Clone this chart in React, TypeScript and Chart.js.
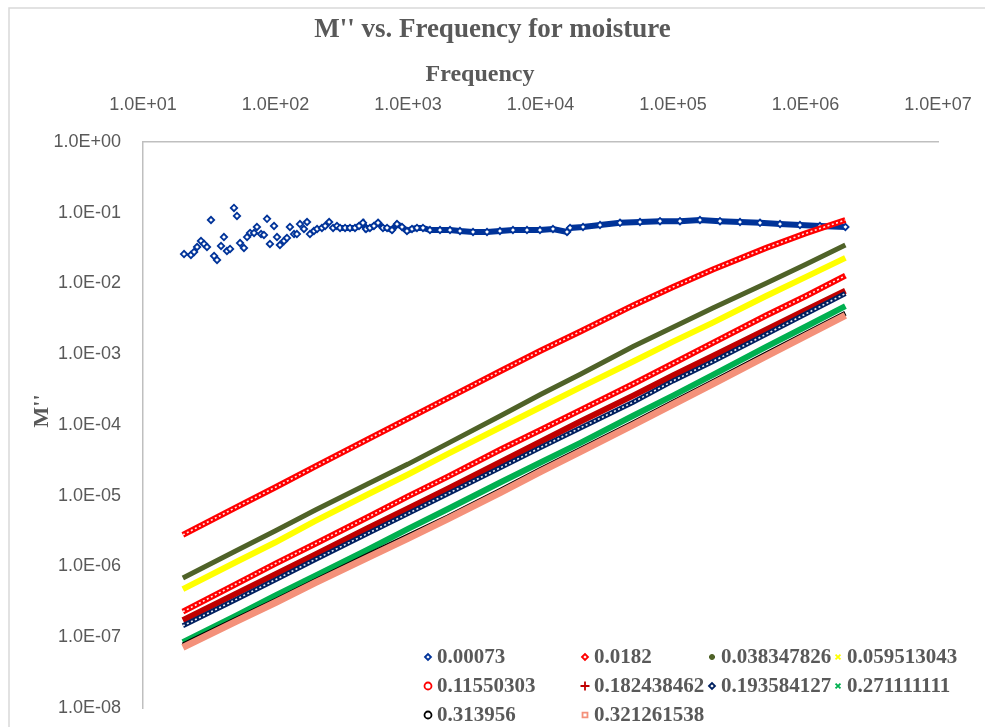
import React, { useEffect, useRef } from "react";
import { Chart, registerables, PointElement } from "chart.js";

Chart.register(...registerables);

const chartTitle = "M'' vs. Frequency for moisture";
const xTitle = "Frequency";
const yTitle = "M''";

const xTickValues = [1e1, 1e2, 1e3, 1e4, 1e5, 1e6, 1e7];
const xTickLabels = ["1.0E+01", "1.0E+02", "1.0E+03", "1.0E+04", "1.0E+05", "1.0E+06", "1.0E+07"];
const yTickValues = [1e0, 1e-1, 1e-2, 1e-3, 1e-4, 1e-5, 1e-6, 1e-7, 1e-8];
const yTickLabels = ["1.0E+00", "1.0E-01", "1.0E-02", "1.0E-03", "1.0E-04", "1.0E-05", "1.0E-06", "1.0E-07", "1.0E-08"];

const seriesLabels = [
  "0.00073", "0.0182", "0.038347826", "0.059513043",
  "0.11550303", "0.182438462", "0.193584127", "0.271111111",
  "0.313956", "0.321261538",
];

// series 0.00073 (noisy at low frequency)
const blueFreq = [
  20.4, 23.0, 24.3, 25.6, 27.4, 28.9, 30.4, 32.6, 34.4, 36.2,
  38.8, 40.8, 43.0, 45.4, 48.6, 51.2, 54.0, 57.8, 61.0, 64.3,
  68.9, 72.4, 77.8, 81.8, 86.3, 90.8, 97.5, 102.6, 108, 116,
  122, 128.5, 138, 145, 153, 164, 173, 182, 195,
  206, 224, 237, 254, 272, 291, 307, 335, 365, 398,
  427, 457, 482, 516, 553, 594, 647, 695, 757, 826,
  901, 982, 1072, 1169, 1297, 1465, 1744, 2075, 2468, 3096,
  3947, 4943, 6197, 7906, 9908, 12420, 15850, 16710, 20940, 28130,
  39810, 56360, 79800, 112900, 159800, 226300, 320400, 453600, 642300, 908000, 1285000, 2000000,
];
const blueM = [
  2.61e-2, 2.53e-2, 2.79e-2, 3.28e-2, 3.99e-2, 3.62e-2, 3.28e-2, 7.9e-2, 2.45e-2, 2.15e-2,
  3.39e-2, 4.54e-2, 2.88e-2, 3.08e-2, 1.17e-1, 9.0e-2, 3.73e-2, 3.18e-2, 4.54e-2, 5.18e-2,
  5.18e-2, 6.3e-2, 5.0e-2, 4.85e-2, 8.2e-2, 3.62e-2, 6.5e-2, 4.54e-2, 3.5e-2, 3.99e-2,
  4.4e-2, 6.3e-2, 5.0e-2, 5.0e-2, 6.93e-2, 5.9e-2, 7.4e-2, 5.0e-2, 5.52e-2,
  5.9e-2, 6.1e-2, 6.5e-2, 7.4e-2, 6.1e-2, 6.5e-2, 6.1e-2, 6.1e-2, 6.1e-2, 6.1e-2,
  6.5e-2, 7.2e-2, 5.9e-2, 6.1e-2, 6.5e-2, 7.2e-2, 6.1e-2, 6.1e-2, 5.7e-2, 6.93e-2,
  6.3e-2, 5.52e-2, 5.9e-2, 6.1e-2, 6.1e-2, 5.7e-2, 5.7e-2, 5.7e-2, 5.52e-2, 5.35e-2,
  5.35e-2, 5.52e-2, 5.7e-2, 5.7e-2, 5.7e-2, 5.9e-2, 5.35e-2, 6.1e-2, 6.3e-2, 6.7e-2,
  7.2e-2, 7.4e-2, 7.6e-2, 7.6e-2, 7.9e-2, 7.6e-2, 7.4e-2, 7.2e-2, 6.93e-2, 6.7e-2, 6.5e-2, 6.3e-2,
];

// shared frequencies for the other series
const freq = [20, 50, 100, 200, 500, 1000, 2000, 5000, 1e4, 2e4, 5e4, 1e5, 2e5, 5e5, 1e6, 2e6];
const m0182 = [2.8e-6, 6.8e-6, 1.32e-5, 2.6e-5, 6.3e-5, 1.23e-4, 2.4e-4, 5.8e-4, 1.12e-3, 2.1e-3, 4.9e-3, 8.9e-3, 1.58e-2, 3.16e-2, 5.1e-2, 7.9e-2];
const m0383 = [6.9e-7, 1.66e-6, 3.2e-6, 6.3e-6, 1.48e-5, 2.8e-5, 5.5e-5, 1.35e-4, 2.7e-4, 5.2e-4, 1.29e-3, 2.4e-3, 4.5e-3, 1.0e-2, 1.86e-2, 3.5e-2];
const m0595 = [4.8e-7, 1.15e-6, 2.2e-6, 4.4e-6, 1.05e-5, 2.0e-5, 3.9e-5, 9.3e-5, 1.78e-4, 3.4e-4, 7.9e-4, 1.51e-3, 2.8e-3, 6.6e-3, 1.23e-2, 2.3e-2];
const m1155 = [2.3e-7, 5.6e-7, 1.1e-6, 2.1e-6, 5.0e-6, 9.8e-6, 1.86e-5, 4.5e-5, 8.5e-5, 1.62e-4, 3.8e-4, 7.4e-4, 1.45e-3, 3.5e-3, 6.6e-3, 1.29e-2];
const m1824 = [1.74e-7, 4.1e-7, 7.8e-7, 1.48e-6, 3.5e-6, 6.6e-6, 1.26e-5, 3.0e-5, 5.8e-5, 1.12e-4, 2.6e-4, 5.0e-4, 9.5e-4, 2.2e-3, 4.2e-3, 7.9e-3];
const m1936 = [1.45e-7, 3.4e-7, 6.5e-7, 1.26e-6, 2.95e-6, 5.6e-6, 1.07e-5, 2.5e-5, 4.8e-5, 9.1e-5, 2.1e-4, 4.2e-4, 7.9e-4, 1.9e-3, 3.7e-3, 7.2e-3];
const m2711 = [8.5e-8, 2.0e-7, 3.9e-7, 7.4e-7, 1.74e-6, 3.4e-6, 6.5e-6, 1.55e-5, 2.95e-5, 5.6e-5, 1.35e-4, 2.6e-4, 5.1e-4, 1.26e-3, 2.45e-3, 4.8e-3];
const m3140 = [7.8e-8, 1.78e-7, 3.3e-7, 6.3e-7, 1.45e-6, 2.7e-6, 5.0e-6, 1.2e-5, 2.35e-5, 4.5e-5, 1.07e-4, 2.1e-4, 4.1e-4, 1.0e-3, 1.95e-3, 3.8e-3];
const m3213 = [7.2e-8, 1.66e-7, 3.1e-7, 5.9e-7, 1.35e-6, 2.5e-6, 4.7e-6, 1.12e-5, 2.2e-5, 4.2e-5, 1.0e-4, 1.95e-4, 3.8e-4, 9.3e-4, 1.82e-3, 3.55e-3];

const lineSeries = [m0182, m0383, m0595, m1155, m1824, m1936, m2711, m3140, m3213];

// styles
const colors = ["#003399", "#FF0000", "#4F6228", "#FFFF00", "#FF0000", "#C00000", "#002060", "#00B050", "#000000", "#F4917A"];
const pointStyles = ["rectRot", "rectRot", "star", "crossRot", "circle", "cross", "rectRot", "crossRot", "circle", "rect"];
const legendRadius = [3, 3, 3, 3.5, 3.5, 4.5, 3, 3.5, 3.5, 3.5];
const lineWidths = [6, 6, 5, 6, 6, 6, 5, 6, 5, 7];
const hollowCenter = [false, true, false, false, true, false, true, false, false, false];

const TEXT = "#595959";
const SERIF = '"Liberation Serif", "Times New Roman", serif';
const SANS = '"Liberation Sans", Arial, sans-serif';

const framePlugin = {
  id: "frame",
  beforeDraw(chart: any) {
    const ctx = chart.ctx;
    ctx.save();
    ctx.fillStyle = "#FFFFFF";
    ctx.fillRect(0, 0, chart.width, chart.height);
    ctx.strokeStyle = "#D9D9D9";
    ctx.lineWidth = 1.5;
    ctx.strokeRect(9, 8, chart.width + 20, chart.height + 20);
    ctx.restore();
  },
};

// gives the hollow-marker chains a white core, as in the reference
const hollowPlugin = {
  id: "hollowCore",
  afterDatasetDraw(chart: any, args: any) {
    if (!hollowCenter[args.index]) return;
    const line = args.meta.dataset;
    if (!line || typeof line.path !== "function") return;
    const ctx = chart.ctx;
    const a = chart.chartArea;
    ctx.save();
    ctx.beginPath();
    ctx.rect(a.left, a.top, a.right - a.left, a.bottom - a.top);
    ctx.clip();
    ctx.strokeStyle = "rgba(255,255,255,0.9)";
    ctx.lineWidth = 1.6;
    ctx.setLineDash([2, 2.5]);
    ctx.beginPath();
    line.path(ctx);
    ctx.stroke();
    ctx.restore();
  },
};

const axisTitlePlugin = {
  id: "axisTitles",
  afterDraw(chart: any) {
    const ctx = chart.ctx;
    ctx.save();
    ctx.fillStyle = TEXT;
    ctx.textAlign = "center";
    ctx.textBaseline = "middle";
    ctx.font = `bold 24px ${SERIF}`;
    ctx.fillText(xTitle, 480, 75);
    ctx.translate(42, 411);
    ctx.rotate(-Math.PI / 2);
    ctx.font = `bold 22px ${SERIF}`;
    ctx.fillText(yTitle, 0, 0);
    ctx.restore();
  },
};

const legendPlugin = {
  id: "insideLegend",
  afterDraw(chart: any) {
    const ctx = chart.ctx;
    const colX = [428, 585, 712, 838];
    const rowY = [657, 686, 715];
    ctx.save();
    ctx.font = `bold 21px ${SERIF}`;
    ctx.fillStyle = TEXT;
    ctx.textBaseline = "middle";
    ctx.textAlign = "left";
    chart.data.datasets.forEach((ds: any, i: number) => {
      const x = colX[i % 4];
      const y = rowY[Math.floor(i / 4)];
      const pt: any = new PointElement({} as any);
      pt.x = x;
      pt.y = y;
      pt.options = {
        pointStyle: pointStyles[i],
        radius: legendRadius[i],
        rotation: 0,
        borderWidth: 1.8,
        borderColor: colors[i],
        backgroundColor: "#FFFFFF",
      };
      pt.draw(ctx, { left: 0, top: 0, right: 5000, bottom: 5000 });
      ctx.fillStyle = TEXT;
      ctx.fillText(ds.label, x + 9, y + 1);
    });
    ctx.restore();
  },
};

export default function App() {
  const ref = useRef<HTMLCanvasElement | null>(null);

  useEffect(() => {
    if (!ref.current) return;
    const datasets: any[] = [];
    datasets.push({
      label: seriesLabels[0],
      data: blueFreq.map((f, i) => ({ x: f, y: blueM[i] })),
      showLine: true,
      borderColor: colors[0],
      borderWidth: lineWidths[0],
      segment: {
        borderColor: (c: any) => (c.p0.parsed.x < 300 ? "rgba(0,0,0,0)" : colors[0]),
      },
      pointStyle: pointStyles[0],
      pointRadius: 3.2,
      pointBorderWidth: 1.8,
      pointBorderColor: colors[0],
      pointBackgroundColor: "#FFFFFF",
      order: 10,
    });
    lineSeries.forEach((vals, k) => {
      const i = k + 1;
      datasets.push({
        label: seriesLabels[i],
        data: freq.map((f, j) => ({ x: f, y: vals[j] })),
        showLine: true,
        borderColor: colors[i],
        borderWidth: lineWidths[i],
        pointRadius: 0,
        pointStyle: pointStyles[i],
        pointBorderColor: colors[i],
        pointBackgroundColor: "#FFFFFF",
        order: 10 - i,
      });
    });

    const chart = new Chart(ref.current, {
      type: "scatter",
      data: { datasets },
      plugins: [framePlugin, hollowPlugin, axisTitlePlugin, legendPlugin],
      options: {
        animation: false,
        responsive: false,
        layout: { padding: 0 },
        plugins: {
          legend: { display: false },
          tooltip: { enabled: false },
          title: {
            display: true,
            text: chartTitle,
            color: TEXT,
            font: { family: SERIF, size: 27, weight: "bold", lineHeight: 1.2 },
            padding: { top: 14, bottom: 0 },
          },
        },
        scales: {
          x: {
            type: "logarithmic",
            position: "top",
            min: 10,
            max: 1e7,
            afterBuildTicks: (s: any) => {
              s.ticks = xTickValues.map((v) => ({ value: v }));
            },
            afterFit: (s: any) => {
              s.height = 95.6;
              s.paddingLeft = 0;
              s.paddingRight = 47;
            },
            ticks: {
              autoSkip: false,
              maxRotation: 0,
              padding: 26,
              color: TEXT,
              font: { family: SANS, size: 18 },
              callback: (v: any) => {
                const idx = xTickValues.indexOf(Number(v));
                return idx >= 0 ? xTickLabels[idx] : "";
              },
            },
            grid: { display: false, drawTicks: false },
            border: { display: true, color: "#BFBFBF", width: 1.5 },
            title: { display: false },
          },
          y: {
            type: "logarithmic",
            position: "left",
            min: 1e-8,
            max: 1,
            afterBuildTicks: (s: any) => {
              s.ticks = [...yTickValues].sort((a, b) => a - b).map((v) => ({ value: v }));
            },
            afterFit: (s: any) => {
              s.width = 143;
              s.paddingTop = 0;
              s.paddingBottom = 19;
            },
            ticks: {
              autoSkip: false,
              padding: 22,
              color: TEXT,
              font: { family: SANS, size: 18 },
              callback: (v: any) => {
                const idx = yTickValues.indexOf(Number(v));
                return idx >= 0 ? yTickLabels[idx] : "";
              },
            },
            grid: { display: false, drawTicks: false },
            border: { display: true, color: "#BFBFBF", width: 1.5 },
            title: { display: false },
          },
        },
      } as any,
    });
    return () => chart.destroy();
  }, []);

  return (
    <div style={{ position: "absolute", left: 0, top: 0, width: 985, height: 727 }}>
      <canvas ref={ref} width={985} height={727} style={{ width: 985, height: 727 }} />
    </div>
  );
}
